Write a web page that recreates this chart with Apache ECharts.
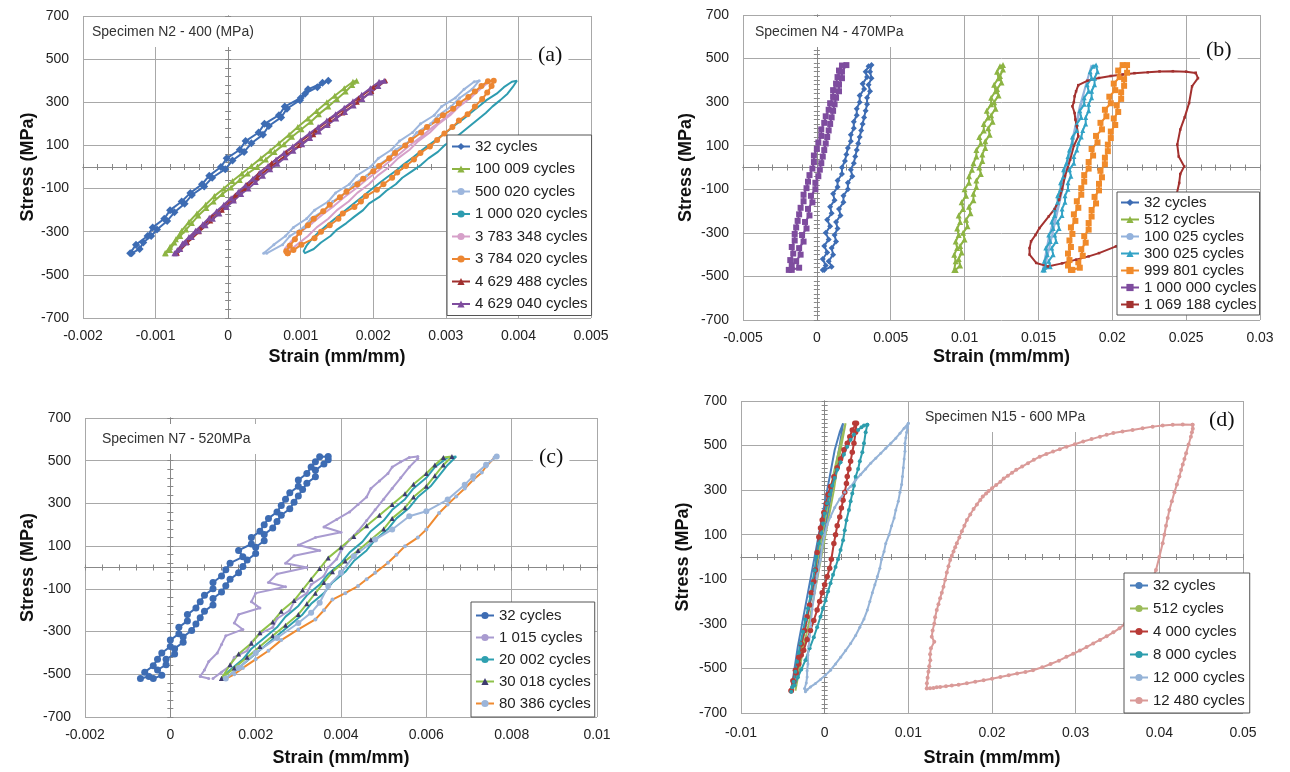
<!DOCTYPE html>
<html><head><meta charset="utf-8">
<script src="https://cdn.jsdelivr.net/npm/echarts@6/dist/echarts.min.js"></script>
<style>html,body{margin:0;padding:0;background:#fff}#c{width:1290px;height:772px}</style>
</head><body><div id="c"></div>
<script>
// ---------------- tick labels ----------------
const yTickLabels = [-700,-500,-300,-100,100,300,500,700];
const aXTicks = [-0.002,-0.001,0,0.001,0.002,0.003,0.004,0.005];
const bXTicks = [-0.005,0,0.005,0.01,0.015,0.02,0.025,0.03];
const cXTicks = [-0.002,0,0.002,0.004,0.006,0.008,0.01];
const dXTicks = [-0.01,0,0.01,0.02,0.03,0.04,0.05];

// ---------------- titles ----------------
const panelTitles = ['Specimen N2 - 400 (MPa)','Specimen N4 - 470MPa','Specimen N7 - 520MPa','Specimen N15 - 600 MPa'];
const panelTags = ['(a)','(b)','(c)','(d)'];

// ---------------- legend names ----------------
const aNames = ['32 cycles','100 009 cycles','500 020 cycles','1 000 020 cycles','3 783 348 cycles','3 784 020 cycles','4 629 488 cycles','4 629 040 cycles'];
const bNames = ['32 cycles','512 cycles','100 025 cycles','300 025 cycles','999 801 cycles','1 000 000 cycles','1 069 188 cycles'];
const cNames = ['32 cycles','1 015 cycles','20 002 cycles','30 018 cycles','80 386 cycles'];
const dNames = ['32 cycles','512 cycles','4 000 cycles','8 000 cycles','12 000 cycles','12 480 cycles'];

// ---------------- panel (a) data [strain, stress] ----------------
const a32 = [[-0.00133,-400],[-0.00122,-380],[-0.00117,-350],[-0.00106,-320],[-0.00098,-290],[-0.00084,-250],[-0.00074,-210],[-0.00060,-170],[-0.00050,-130],[-0.00033,-90],[-0.00022,-50],[-0.00004,-10],[0.00006,30],[0.00022,70],[0.00032,110],[0.00048,150],[0.00056,190],[0.00073,230],[0.00081,270],[0.00099,310],[0.00106,340],[0.00123,370],[0.00138,400],
 [0.00130,390],[0.00110,360],[0.00100,320],[0.00078,280],[0.00070,240],[0.00050,200],[0.00042,160],[0.00024,120],[0.00016,80],[-0.00002,40],[-0.00010,0],[-0.00026,-40],[-0.00036,-80],[-0.00052,-120],[-0.00064,-160],[-0.00080,-200],[-0.00088,-240],[-0.00104,-280],[-0.00111,-320],[-0.00127,-360],[-0.00135,-400]];
const a100009 = [[-0.00086,-400],[-0.00080,-385],[-0.00074,-350],[-0.00066,-320],[-0.00058,-290],[-0.00050,-260],[-0.00041,-225],[-0.00030,-190],[-0.00020,-160],[-0.00008,-125],[0.00004,-95],[0.00016,-60],[0.00027,-30],[0.00040,0],[0.00052,35],[0.00064,70],[0.00077,105],[0.00088,140],[0.00101,175],[0.00114,210],[0.00125,245],[0.00138,280],[0.00150,315],[0.00162,350],[0.00171,380],[0.00177,400],
 [0.00172,395],[0.00160,365],[0.00147,330],[0.00136,300],[0.00122,260],[0.00110,225],[0.00096,185],[0.00084,150],[0.00070,110],[0.00058,75],[0.00045,40],[0.00032,5],[0.00019,-30],[0.00006,-65],[-0.00006,-100],[-0.00019,-135],[-0.00031,-175],[-0.00043,-215],[-0.00054,-255],[-0.00064,-295],[-0.00072,-335],[-0.00080,-370],[-0.00087,-400]];
const a500020 = [[0.00053,-400],[0.00075,-360],[0.00085,-320],[0.00104,-280],[0.00114,-240],[0.00133,-200],[0.00144,-160],[0.00162,-120],[0.00173,-80],[0.00191,-40],[0.00203,0],[0.00221,40],[0.00231,80],[0.00250,120],[0.00260,160],[0.00279,200],[0.00290,240],[0.00307,280],[0.00319,320],[0.00336,360],[0.00346,400],
 [0.00339,395],[0.00325,360],[0.00313,320],[0.00294,280],[0.00284,240],[0.00265,200],[0.00254,160],[0.00236,120],[0.00225,80],[0.00207,40],[0.00196,0],[0.00177,-40],[0.00167,-80],[0.00148,-120],[0.00138,-160],[0.00119,-200],[0.00108,-240],[0.00090,-280],[0.00079,-320],[0.00063,-360],[0.00049,-400]];
const a1000020 = [[0.00105,-400],[0.00118,-380],[0.00128,-350],[0.00141,-320],[0.00150,-290],[0.00163,-260],[0.00174,-230],[0.00186,-200],[0.00194,-170],[0.00208,-140],[0.00218,-110],[0.00231,-80],[0.00240,-50],[0.00253,-20],[0.00266,10],[0.00276,40],[0.00289,70],[0.00298,100],[0.00311,130],[0.00322,160],[0.00333,190],[0.00344,220],[0.00355,250],[0.00364,280],[0.00375,310],[0.00385,340],[0.00392,370],[0.00398,400],
 [0.00391,395],[0.00380,370],[0.00370,340],[0.00356,310],[0.00347,285],[0.00334,250],[0.00325,225],[0.00311,190],[0.00302,165],[0.00288,130],[0.00278,105],[0.00264,70],[0.00255,45],[0.00241,10],[0.00232,-15],[0.00218,-50],[0.00208,-75],[0.00195,-110],[0.00184,-140],[0.00171,-175],[0.00160,-205],[0.00147,-240],[0.00136,-270],[0.00124,-305],[0.00115,-335],[0.00108,-365],[0.00104,-390],[0.00106,-400]];
const a3783348 = [[0.00080,-400],[0.00095,-360],[0.00110,-320],[0.00122,-280],[0.00138,-240],[0.00150,-200],[0.00166,-160],[0.00178,-120],[0.00194,-80],[0.00206,-40],[0.00222,0],[0.00234,40],[0.00250,80],[0.00262,120],[0.00278,160],[0.00290,200],[0.00306,240],[0.00318,280],[0.00334,320],[0.00346,360],[0.00362,400],
 [0.00354,380],[0.00340,340],[0.00326,300],[0.00310,260],[0.00296,220],[0.00280,180],[0.00266,140],[0.00250,100],[0.00236,60],[0.00220,20],[0.00206,-20],[0.00190,-60],[0.00176,-100],[0.00160,-140],[0.00146,-180],[0.00130,-220],[0.00116,-260],[0.00100,-300],[0.00088,-340],[0.00078,-380],[0.00080,-400]];
const a3784020 = [[0.00082,-400],[0.00090,-385],[0.00101,-360],[0.00119,-330],[0.00128,-300],[0.00140,-270],[0.00152,-240],[0.00158,-215],[0.00174,-185],[0.00183,-160],[0.00190,-135],[0.00205,-105],[0.00214,-80],[0.00226,-50],[0.00233,-25],[0.00245,5],[0.00256,35],[0.00265,65],[0.00278,95],[0.00288,125],[0.00298,155],[0.00309,185],[0.00318,215],[0.00330,245],[0.00340,280],[0.00350,315],[0.00357,345],[0.00363,375],[0.00366,400],
 [0.00358,398],[0.00349,375],[0.00340,350],[0.00331,325],[0.00318,295],[0.00310,270],[0.00296,240],[0.00288,215],[0.00274,185],[0.00266,160],[0.00252,125],[0.00244,100],[0.00230,65],[0.00222,40],[0.00208,5],[0.00200,-20],[0.00186,-55],[0.00178,-80],[0.00163,-115],[0.00154,-140],[0.00140,-175],[0.00131,-205],[0.00118,-240],[0.00110,-270],[0.00098,-305],[0.00092,-335],[0.00085,-365],[0.00080,-390],[0.00082,-400]];
const a4629488 = [[-0.00070,-400],[-0.00056,-350],[-0.00040,-300],[-0.00024,-250],[-0.00008,-200],[0.00008,-150],[0.00024,-100],[0.00040,-50],[0.00058,0],[0.00078,50],[0.00098,100],[0.00118,150],[0.00138,200],[0.00158,250],[0.00178,300],[0.00198,350],[0.00217,400],
 [0.00200,370],[0.00180,320],[0.00160,270],[0.00140,220],[0.00120,170],[0.00100,120],[0.00080,70],[0.00060,20],[0.00042,-30],[0.00026,-80],[0.00010,-130],[-0.00006,-180],[-0.00022,-230],[-0.00038,-280],[-0.00054,-330],[-0.00066,-375],[-0.00071,-400]];
const a4629040 = [[-0.00072,-400],[-0.00066,-380],[-0.00058,-350],[-0.00050,-325],[-0.00040,-295],[-0.00031,-270],[-0.00021,-240],[-0.00012,-215],[-0.00002,-185],[0.00008,-155],[0.00018,-125],[0.00028,-100],[0.00038,-70],[0.00048,-40],[0.00058,-10],[0.00068,15],[0.00079,45],[0.00090,75],[0.00102,105],[0.00113,135],[0.00125,165],[0.00137,195],[0.00149,225],[0.00161,255],[0.00173,285],[0.00185,315],[0.00196,345],[0.00207,375],[0.00215,400],
 [0.00208,395],[0.00196,365],[0.00184,335],[0.00172,305],[0.00160,275],[0.00148,245],[0.00136,215],[0.00124,185],[0.00112,155],[0.00100,125],[0.00089,95],[0.00077,65],[0.00066,35],[0.00055,5],[0.00044,-25],[0.00034,-55],[0.00024,-85],[0.00014,-115],[0.00004,-145],[-0.00006,-175],[-0.00016,-205],[-0.00026,-235],[-0.00035,-265],[-0.00045,-295],[-0.00054,-325],[-0.00063,-355],[-0.00070,-385],[-0.00074,-400]];

// ---------------- panel (b) data ----------------
const b32 = [[0.0005,-470],[0.0010,-455],[0.0008,-430],[0.0011,-400],[0.0010,-370],[0.0013,-340],[0.0012,-310],[0.0014,-280],[0.0013,-250],[0.0016,-220],[0.0015,-190],[0.0018,-160],[0.0018,-130],[0.0021,-100],[0.0021,-70],[0.0024,-40],[0.0023,-10],[0.0025,20],[0.0026,50],[0.0027,80],[0.0028,110],[0.0029,140],[0.0030,170],[0.0031,200],[0.0032,230],[0.0033,260],[0.0034,290],[0.0034,320],[0.0036,350],[0.0035,380],[0.0037,410],[0.0036,440],[0.0037,470],
 [0.0035,465],[0.0033,440],[0.0034,415],[0.0031,385],[0.0032,360],[0.0029,330],[0.0029,300],[0.0027,270],[0.0027,240],[0.0025,210],[0.0025,180],[0.0023,150],[0.0023,120],[0.0021,90],[0.0020,60],[0.0019,30],[0.0017,0],[0.0017,-30],[0.0014,-60],[0.0014,-90],[0.0011,-120],[0.0012,-150],[0.0009,-180],[0.0010,-210],[0.0007,-240],[0.0009,-270],[0.0006,-300],[0.0008,-330],[0.0005,-360],[0.0007,-390],[0.0004,-420],[0.0006,-450],[0.0004,-470]];
const b512 = [[0.0094,-470],[0.0097,-450],[0.0096,-420],[0.0098,-390],[0.0097,-360],[0.0100,-330],[0.0099,-300],[0.0102,-270],[0.0101,-240],[0.0104,-210],[0.0103,-180],[0.0106,-150],[0.0106,-120],[0.0108,-90],[0.0108,-60],[0.0111,-30],[0.0110,0],[0.0112,30],[0.0112,60],[0.0114,90],[0.0114,120],[0.0117,150],[0.0116,180],[0.0119,210],[0.0118,240],[0.0121,270],[0.0120,300],[0.0123,330],[0.0122,360],[0.0125,390],[0.0124,420],[0.0126,450],[0.0126,470],
 [0.0124,465],[0.0122,440],[0.0123,410],[0.0120,380],[0.0121,350],[0.0118,320],[0.0118,290],[0.0115,260],[0.0116,230],[0.0113,200],[0.0113,170],[0.0110,140],[0.0111,110],[0.0108,80],[0.0108,50],[0.0106,20],[0.0105,-10],[0.0103,-40],[0.0103,-70],[0.0100,-100],[0.0101,-130],[0.0098,-160],[0.0099,-190],[0.0096,-220],[0.0097,-250],[0.0095,-280],[0.0096,-310],[0.0094,-340],[0.0095,-370],[0.0093,-400],[0.0094,-430],[0.0093,-470]];
const b100025 = [[0.0154,-470],[0.0158,-350],[0.0162,-230],[0.0166,-110],[0.0169,0],[0.0173,110],[0.0177,230],[0.0181,350],[0.0186,470],[0.0183,400],[0.0178,280],[0.0174,160],[0.0170,40],[0.0166,-80],[0.0162,-200],[0.0157,-320],[0.0153,-470]];
const b300025 = [[0.0154,-470],[0.0158,-455],[0.0157,-430],[0.0160,-400],[0.0159,-370],[0.0162,-340],[0.0161,-310],[0.0164,-280],[0.0163,-250],[0.0166,-220],[0.0166,-190],[0.0168,-160],[0.0168,-130],[0.0170,-100],[0.0170,-70],[0.0172,-40],[0.0171,-10],[0.0174,20],[0.0174,50],[0.0176,80],[0.0177,110],[0.0179,140],[0.0180,170],[0.0182,200],[0.0182,230],[0.0184,260],[0.0184,290],[0.0186,320],[0.0186,350],[0.0188,380],[0.0188,410],[0.0190,440],[0.0189,470],
 [0.0187,465],[0.0185,440],[0.0186,410],[0.0183,380],[0.0184,350],[0.0181,320],[0.0181,290],[0.0178,260],[0.0179,230],[0.0176,200],[0.0176,170],[0.0173,140],[0.0173,110],[0.0171,80],[0.0170,50],[0.0169,20],[0.0167,-10],[0.0167,-40],[0.0165,-70],[0.0165,-100],[0.0163,-130],[0.0163,-160],[0.0161,-190],[0.0161,-220],[0.0159,-250],[0.0160,-280],[0.0157,-310],[0.0158,-340],[0.0155,-370],[0.0156,-400],[0.0154,-430],[0.0155,-450],[0.0153,-470]];
const b999801 = [[0.0173,-470],[0.0178,-460],[0.0177,-435],[0.0180,-405],[0.0179,-375],[0.0182,-345],[0.0181,-315],[0.0184,-285],[0.0184,-255],[0.0186,-225],[0.0186,-195],[0.0189,-165],[0.0188,-135],[0.0191,-105],[0.0191,-75],[0.0193,-45],[0.0192,-15],[0.0195,15],[0.0195,45],[0.0197,75],[0.0197,105],[0.0199,135],[0.0199,165],[0.0202,195],[0.0201,225],[0.0204,255],[0.0203,285],[0.0206,315],[0.0206,345],[0.0208,375],[0.0208,405],[0.0210,435],[0.0210,470],
 [0.0207,470],[0.0204,445],[0.0205,415],[0.0201,385],[0.0202,355],[0.0198,325],[0.0199,295],[0.0195,265],[0.0196,235],[0.0192,205],[0.0193,175],[0.0189,145],[0.0190,115],[0.0186,85],[0.0187,55],[0.0184,25],[0.0184,-5],[0.0181,-35],[0.0181,-65],[0.0179,-95],[0.0179,-125],[0.0176,-155],[0.0177,-185],[0.0174,-215],[0.0175,-245],[0.0172,-275],[0.0173,-305],[0.0171,-335],[0.0172,-365],[0.0170,-395],[0.0171,-425],[0.0170,-450],[0.0172,-470]];
const b1000000 = [[-0.0017,-470],[-0.0012,-460],[-0.0014,-430],[-0.0011,-400],[-0.0012,-370],[-0.0009,-340],[-0.0010,-310],[-0.0007,-280],[-0.0008,-250],[-0.0005,-220],[-0.0006,-190],[-0.0003,-160],[-0.0004,-130],[-0.0001,-100],[-0.0001,-70],[0.0001,-40],[0.0002,-10],[0.0003,20],[0.0004,50],[0.0005,80],[0.0006,110],[0.0007,140],[0.0008,170],[0.0009,200],[0.0010,230],[0.0011,260],[0.0012,290],[0.0013,320],[0.0015,350],[0.0015,380],[0.0017,410],[0.0017,440],[0.0020,470],
 [0.0017,468],[0.0015,445],[0.0014,415],[0.0013,385],[0.0011,355],[0.0011,325],[0.0009,295],[0.0008,265],[0.0006,235],[0.0005,205],[0.0003,175],[0.0003,145],[0.0001,115],[0.0000,85],[-0.0002,55],[-0.0002,25],[-0.0003,-5],[-0.0005,-35],[-0.0006,-65],[-0.0007,-95],[-0.0009,-125],[-0.0009,-155],[-0.0011,-185],[-0.0012,-215],[-0.0013,-245],[-0.0014,-275],[-0.0015,-305],[-0.0015,-335],[-0.0017,-365],[-0.0016,-395],[-0.0018,-425],[-0.0017,-450],[-0.0019,-470]];
const b1069188 = [[0.02565,434],[0.0250,440],[0.0241,442],[0.0232,441],[0.0224,437],[0.0215,433],[0.0207,427],[0.0199,420],[0.0191,411],[0.0183,398],[0.0177,378],[0.01755,350],[0.01745,327],[0.0174,300],[0.0173,281],[0.01745,250],[0.0175,220],[0.0176,190],[0.0177,143],[0.0174,100],[0.01715,36],[0.0168,-40],[0.0166,-100],[0.0164,-148],[0.0161,-190],[0.0157,-224],[0.01507,-278],[0.0148,-310],[0.0145,-339],[0.0144,-370],[0.0144,-400],[0.01485,-438],[0.01563,-454],[0.0166,-440],[0.01755,-423],[0.0184,-408],[0.0191,-393],[0.02025,-362],[0.0215,-320],[0.0228,-270],[0.0238,-200],[0.0243,-140],[0.02453,-71],[0.0246,-30],[0.02487,5],[0.0245,50],[0.0244,105],[0.0246,174],[0.0249,230],[0.0252,296],[0.0254,373],[0.0258,410],[0.02565,434]];

// ---------------- panel (c) data ----------------
const c32 = [[-0.0004,-520],[-0.0002,-505],[-0.0003,-480],[-0.0001,-455],[-0.0001,-430],[0.0001,-405],[0.0001,-380],[0.0003,-350],[0.0003,-325],[0.0005,-295],[0.0006,-265],[0.0007,-235],[0.0008,-205],[0.0010,-175],[0.0010,-145],[0.0012,-115],[0.0013,-85],[0.0014,-55],[0.0016,-25],[0.0017,5],[0.0018,35],[0.0020,65],[0.0020,95],[0.0022,125],[0.0022,155],[0.0024,185],[0.0025,215],[0.0026,245],[0.0028,275],[0.0029,305],[0.0030,335],[0.0031,365],[0.0032,395],[0.0034,425],[0.0034,455],[0.0036,485],[0.0037,505],[0.0037,520],
 [0.0035,518],[0.0034,495],[0.0033,470],[0.0032,440],[0.0030,410],[0.0030,380],[0.0028,350],[0.0027,320],[0.0026,290],[0.0025,260],[0.0023,230],[0.0022,200],[0.0021,170],[0.0019,140],[0.0019,110],[0.0016,80],[0.0017,50],[0.0014,20],[0.0013,-10],[0.0012,-40],[0.0010,-70],[0.0010,-100],[0.0008,-130],[0.0007,-160],[0.0006,-190],[0.0004,-220],[0.0004,-250],[0.0002,-280],[0.0002,-310],[0.0000,-340],[0.0000,-370],[-0.0002,-400],[-0.0003,-430],[-0.0004,-460],[-0.0006,-490],[-0.0005,-510],[-0.0007,-520]];
const c1015 = [[0.0010,-520],[0.0012,-490],[0.0014,-460],[0.0015,-420],[0.0018,-390],[0.0019,-350],[0.0021,-310],[0.0024,-280],[0.0025,-240],[0.0028,-200],[0.0029,-160],[0.0032,-120],[0.0033,-80],[0.0036,-40],[0.0037,0],[0.0039,40],[0.0040,80],[0.0042,130],[0.0044,170],[0.0046,220],[0.0048,270],[0.0050,320],[0.0052,370],[0.0054,420],[0.0056,470],[0.0058,510],[0.0058,520],
 [0.0056,515],[0.0054,495],[0.0052,470],[0.0051,440],[0.0049,405],[0.0047,370],[0.0046,330],[0.0044,295],[0.0042,260],[0.0039,225],[0.0036,190],[0.0040,165],[0.0034,140],[0.0030,105],[0.0035,80],[0.0029,55],[0.0027,20],[0.0032,0],[0.0025,-30],[0.0023,-70],[0.0027,-90],[0.0020,-120],[0.0019,-160],[0.0021,-190],[0.0016,-220],[0.0015,-260],[0.0017,-290],[0.0013,-320],[0.0012,-360],[0.0011,-400],[0.0009,-440],[0.0008,-480],[0.0007,-510],[0.0009,-520]];
const c20002 = [[0.0013,-520],[0.0016,-470],[0.0019,-420],[0.0022,-370],[0.0025,-320],[0.0028,-270],[0.0031,-220],[0.0033,-170],[0.0036,-120],[0.0038,-70],[0.0041,-20],[0.0043,30],[0.0046,80],[0.0048,130],[0.0051,180],[0.0053,230],[0.0056,280],[0.0058,330],[0.0061,380],[0.0063,430],[0.0065,480],[0.0067,520],
 [0.0065,515],[0.0062,470],[0.0060,420],[0.0057,370],[0.0055,320],[0.0052,270],[0.0050,220],[0.0047,170],[0.0045,120],[0.0042,70],[0.0040,20],[0.0037,-30],[0.0035,-80],[0.0032,-130],[0.0030,-180],[0.0027,-230],[0.0025,-280],[0.0022,-330],[0.0019,-380],[0.0017,-430],[0.0014,-480],[0.0012,-520]];
const c30018 = [[0.0012,-520],[0.0015,-470],[0.0018,-420],[0.0021,-370],[0.0024,-320],[0.0027,-270],[0.0030,-220],[0.0032,-170],[0.0034,-120],[0.0036,-70],[0.0038,-20],[0.0041,30],[0.0044,80],[0.0047,130],[0.0050,180],[0.0052,230],[0.0055,280],[0.0057,330],[0.0060,380],[0.0062,430],[0.0064,480],[0.0066,520],
 [0.0064,515],[0.0062,480],[0.0060,440],[0.0057,390],[0.0055,345],[0.0052,295],[0.0049,245],[0.0046,195],[0.0043,145],[0.0040,95],[0.0037,45],[0.0035,-5],[0.0033,-55],[0.0031,-105],[0.0029,-155],[0.0026,-205],[0.0024,-255],[0.0021,-305],[0.0019,-355],[0.0016,-405],[0.0014,-455],[0.0012,-520]];
const c80386 = [[0.0013,-520],[0.0015,-500],[0.0017,-470],[0.0020,-430],[0.0023,-390],[0.0026,-340],[0.0030,-290],[0.0034,-243],[0.0036,-200],[0.0038,-150],[0.0041,-120],[0.0044,-87],[0.0046,-55],[0.0048,-25],[0.0051,22],[0.0053,60],[0.0055,100],[0.0058,140],[0.0060,178],[0.0063,255],[0.0065,295],[0.0067,333],[0.0069,370],[0.0071,411],[0.0073,445],[0.0074,473],[0.0076,515]];
const c80386Unload = [[0.00765,520],[0.0074,481],[0.0071,427],[0.0069,388],[0.0065,318],[0.0060,263],[0.0056,240],[0.0052,178],[0.0048,131],[0.0043,53],[0.0040,-25],[0.0037,-87],[0.0035,-165],[0.0033,-212],[0.0030,-260],[0.0025,-330],[0.0020,-400],[0.0016,-470],[0.0013,-520]];

// ---------------- panel (d) data ----------------
const d32 = [[-0.0040,-600],[-0.0034,-500],[-0.0028,-400],[-0.0022,-300],[-0.0017,-200],[-0.0011,-100],[-0.0006,0],[-0.0001,100],[0.0004,200],[0.0009,300],[0.0013,400],[0.0018,500],[0.0022,600],
 [0.0018,560],[0.0012,480],[0.0008,400],[0.0003,300],[-0.0002,200],[-0.0007,100],[-0.0012,0],[-0.0017,-100],[-0.0022,-200],[-0.0027,-300],[-0.0032,-400],[-0.0036,-500],[-0.0040,-600]];
const d512 = [[-0.0035,-600],[-0.0030,-500],[-0.0025,-400],[-0.0019,-300],[-0.0014,-200],[-0.0009,-100],[-0.0004,0],[0.0001,100],[0.0006,200],[0.0011,300],[0.0015,400],[0.0020,500],[0.0025,600],
 [0.0021,540],[0.0016,460],[0.0011,380],[0.0006,280],[0.0001,180],[-0.0004,80],[-0.0009,-20],[-0.0014,-120],[-0.0019,-220],[-0.0024,-320],[-0.0028,-420],[-0.0032,-520],[-0.0035,-600]];
const d4000 = [[-0.0040,-600],[-0.0037,-560],[-0.0034,-520],[-0.0031,-480],[-0.0028,-440],[-0.0025,-418],[-0.0021,-370],[-0.0017,-330],[-0.0013,-285],[-0.0009,-238],[-0.0006,-200],[-0.0003,-160],[0.0000,-125],[0.0003,-88],[0.0006,-50],[0.0008,-10],[0.0011,61],[0.0013,100],[0.0015,140],[0.0018,180],[0.0020,220],[0.0022,255],[0.0024,290],[0.0026,330],[0.0027,361],[0.0029,395],[0.0031,430],[0.0033,470],[0.0035,510],[0.0037,560],[0.0038,600],
 [0.0036,600],[0.0033,570],[0.0030,540],[0.0027,510],[0.0023,481],[0.0019,440],[0.0015,400],[0.0011,360],[0.0007,316],[0.0004,280],[0.0002,240],[-0.0001,200],[-0.0003,166],[-0.0005,130],[-0.0007,90],[-0.0009,20],[-0.0011,-58],[-0.0013,-110],[-0.0016,-160],[-0.0018,-215],[-0.0021,-268],[-0.0024,-330],[-0.0028,-390],[-0.0031,-450],[-0.0035,-508],[-0.0038,-555],[-0.0040,-600]];
const d8000 = [[0.0051,593],[0.0049,560],[0.0047,510],[0.0045,470],[0.0042,430],[0.0040,395],[0.0037,360],[0.0035,320],[0.0033,285],[0.0031,250],[0.0029,211],[0.0026,165],[0.0024,120],[0.0022,75],[0.0019,31],[0.0016,-10],[0.0013,-45],[0.0010,-80],[0.0007,-118],[0.0004,-155],[0.0001,-195],[-0.0002,-230],[-0.0005,-268],[-0.0009,-315],[-0.0013,-360],[-0.0018,-410],[-0.0023,-463],[-0.0028,-505],[-0.0032,-540],[-0.0036,-575],[-0.0040,-605],
 [-0.0039,-585],[-0.0037,-560],[-0.0035,-515],[-0.0033,-470],[-0.0031,-430],[-0.0029,-388],[-0.0026,-335],[-0.0023,-280],[-0.0020,-230],[-0.0017,-178],[-0.0015,-120],[-0.0012,-60],[-0.0010,0],[-0.0007,61],[-0.0004,105],[-0.0002,150],[0.0000,195],[0.0003,241],[0.0006,280],[0.0009,320],[0.0012,355],[0.0015,391],[0.0019,425],[0.0023,460],[0.0027,495],[0.0031,526],[0.0035,550],[0.0040,570],[0.0044,582],[0.0047,590],[0.0051,593]];
const d12000 = [[0.0100,600],[0.0099,580],[0.0098,560],[0.0097,535],[0.0096,510],[0.0096,475],[0.0095,440],[0.0094,400],[0.0093,361],[0.0092,325],[0.0090,290],[0.0088,250],[0.0085,211],[0.0083,175],[0.0080,140],[0.0077,100],[0.0073,61],[0.0071,25],[0.0068,-10],[0.0066,-50],[0.0063,-88],[0.0060,-125],[0.0057,-160],[0.0054,-200],[0.0051,-238],[0.0047,-278],[0.0042,-315],[0.0037,-352],[0.0031,-388],[0.0025,-420],[0.0019,-450],[0.0013,-480],[0.0007,-508],[0.0001,-530],[-0.0005,-550],[-0.0011,-568],[-0.0017,-583],[-0.0021,-596],[-0.0023,-605],
 [-0.0024,-590],[-0.0022,-565],[-0.0021,-538],[-0.0021,-510],[-0.0020,-480],[-0.0020,-440],[-0.0019,-400],[-0.0018,-355],[-0.0017,-313],[-0.0015,-235],[-0.0012,-160],[-0.0009,-85],[-0.0005,-13],[-0.0003,45],[0.0000,100],[0.0003,145],[0.0007,181],[0.0012,222],[0.0018,260],[0.0024,290],[0.0031,316],[0.0037,345],[0.0043,370],[0.0049,395],[0.0055,421],[0.0061,443],[0.0067,465],[0.0073,488],[0.0079,510],[0.0085,533],[0.0090,555],[0.0095,578],[0.0100,600]];
const d12480 = [[0.04397,593],[0.0428,594],[0.0416,593],[0.0404,590],[0.0392,585],[0.0380,578],[0.0368,570],[0.0356,563],[0.0345,556],[0.0337,548],[0.0329,540],[0.0319,529],[0.0309,518],[0.0299,506],[0.0289,495],[0.0281,484],[0.0273,473],[0.0265,462],[0.0257,450],[0.0250,436],[0.0243,421],[0.0236,406],[0.0229,391],[0.0224,378],[0.0219,365],[0.0214,352],[0.0210,338],[0.0205,323],[0.0200,308],[0.0196,296],[0.0193,285],[0.0189,271],[0.0186,256],[0.0182,236],[0.0178,215],[0.0174,191],[0.0170,166],[0.0167,140],[0.0164,115],[0.0161,88],[0.0158,62],[0.0156,44],[0.0154,25],[0.0152,6],[0.0150,-13],[0.0148,-42],[0.0146,-70],[0.0144,-102],[0.0142,-133],[0.0140,-160],[0.0138,-185],[0.0136,-212],[0.0134,-238],[0.0132,-270],[0.0131,-300],[0.0129,-330],[0.0128,-358],[0.0131,-380],[0.0127,-410],[0.0126,-436],[0.01262,-463],[0.0125,-490],[0.0124,-515],[0.0123,-542],[0.01222,-567],[0.0122,-590],
 [0.0126,-589],[0.0130,-588],[0.0134,-585],[0.0138,-583],[0.0145,-580],[0.0152,-577],[0.0160,-573],[0.0170,-567],[0.0180,-560],[0.0190,-553],[0.0200,-546],[0.0210,-538],[0.0220,-531],[0.0230,-523],[0.0240,-516],[0.0249,-508],[0.0260,-495],[0.0270,-480],[0.0280,-465],[0.0289,-448],[0.0297,-434],[0.0305,-420],[0.0313,-404],[0.0321,-388],[0.0329,-372],[0.0337,-356],[0.0345,-338],[0.03524,-320],[0.0359,-300],[0.0365,-280],[0.0371,-256],[0.0376,-230],[0.0381,-190],[0.0386,-150],[0.0391,-104],[0.0396,-58],[0.0400,0],[0.0404,62],[0.0406,100],[0.0408,140],[0.0410,175],[0.0412,211],[0.0415,250],[0.0418,290],[0.0421,325],[0.0424,361],[0.0426,390],[0.0428,415],[0.0430,440],[0.0432,466],[0.0435,505],[0.04377,540],[0.0439,560],[0.0440,575],[0.04397,593]];

// ---------------- styles & layout (not data) ----------------
const FONT = "'Liberation Sans', Arial, Helvetica, sans-serif";
const panels = [
  { key:'a', names:aNames, data:[a32,a100009,a500020,a1000020,a3783348,a3784020,a4629488,a4629040], xTicks:aXTicks,
    styles:[{c:'#3D6CB3',s:'diamond',z:8},{c:'#8DB443',s:'triangle',z:6},{c:'#9DB6DD',s:'circle',z:3},{c:'#2E9CB0',s:'none'},{c:'#D6A0C9',s:'none'},{c:'#EC8632',s:'circle',z:6},{c:'#A0302F',s:'triangle',z:5},{c:'#7E4C9E',s:'triangle',z:6}],
    grid:{left:83,top:16,width:508,height:302}, xMinor:0.0002, yMinor:40, lblMargin:11, xGap:30, yGap:46,
    legend:{left:447,top:135,gap:7.5,pad:[4,4,4,4]}, title:{left:84,top:17}, tag:{left:532,top:42} },
  { key:'b', names:bNames, data:[b32,b512,b100025,b300025,b999801,b1000000,b1069188], xTicks:bXTicks,
    styles:[{c:'#3D6CB3',s:'diamond',z:6},{c:'#8DB443',s:'triangle',z:6},{c:'#93B2DC',s:'none'},{c:'#33A3C6',s:'triangle',z:5},{c:'#F08A2A',s:'rect',z:6},{c:'#7E4C9E',s:'rect',z:6},{c:'#A3312F',s:'rect',z:2.5}],
    grid:{left:743,top:15,width:517,height:305}, xMinor:0.001, yMinor:20, lblMargin:11, xGap:28, yGap:48,
    legend:{left:1117,top:192,gap:2,pad:[3,3,3,3]}, title:{left:747,top:17}, tag:{left:1200,top:37} },
  { key:'c', names:cNames, data:[c32,c1015,c20002,c30018,c80386], xTicks:cXTicks,
    styles:[{c:'#3D6CB3',s:'circle',z:7},{c:'#A99BD0',s:'circle',z:3},{c:'#2FA0B0',s:'none'},{c:'#8FC24A',m:'#3D3A6E',s:'triangle',z:5},{c:'#EF8A30',m:'#9BB5DA',s:'circle',z:4}],
    grid:{left:85,top:418,width:512,height:299}, xMinor:0.0004, yMinor:40, lblMargin:11, xGap:32, yGap:48,
    legend:{left:471,top:602,gap:7,pad:[6,4,6,4]}, title:{left:94,top:424}, tag:{left:533,top:444} },
  { key:'d', names:dNames, data:[d32,d512,d4000,d8000,d12000,d12480], xTicks:dXTicks,
    styles:[{c:'#4A7EBB',s:'none'},{c:'#9BBB59',s:'none'},{c:'#B83A36',s:'circle',z:5.5},{c:'#2C9DAD',s:'circle',z:4},{c:'#95B3D7',s:'circle',z:3},{c:'#DA9A98',s:'circle',z:4}],
    grid:{left:741,top:401,width:502,height:312}, xMinor:0.002, yMinor:20, lblMargin:13, xGap:36, yGap:49,
    legend:{left:1124,top:573,gap:8,pad:[5,5,5,5]}, title:{left:917,top:402}, tag:{left:1203,top:407} }
];

const option = { animation:false, backgroundColor:'#fff', grid:[], xAxis:[], yAxis:[], series:[], legend:[], title:[] };
const gridColor = '#a8a8a8', zeroColor = '#888888';

panels.forEach((P, i) => {
  option.grid.push(Object.assign({containLabel:false}, P.grid));
  const xMin = P.xTicks[0], xMax = P.xTicks[P.xTicks.length-1];
  const xInt = +(P.xTicks[1]-P.xTicks[0]).toPrecision(6);
  const yMin = yTickLabels[0], yMax = yTickLabels[yTickLabels.length-1];
  const base = 3*i;
  option.xAxis.push({ type:'value', gridIndex:i, position:'bottom', min:xMin, max:xMax, interval:xInt,
    axisLine:{show:false,onZero:false}, axisTick:{show:false},
    axisLabel:{fontSize:14, fontFamily:FONT, color:'#222', margin:P.lblMargin},
    splitLine:{show:true, lineStyle:{color:gridColor, width:1}},
    name:'Strain (mm/mm)', nameLocation:'middle', nameGap:P.xGap,
    nameTextStyle:{fontSize:18, fontWeight:'bold', fontFamily:FONT, color:'#111'} });
  [false,true].forEach(inside => option.xAxis.push({ type:'value', gridIndex:i, position:'bottom', min:xMin, max:xMax, interval:P.xMinor,
    axisLine:{show:true,onZero:true,onZeroAxisIndex:base,lineStyle:{color:zeroColor,width:1}},
    axisTick:{show:true,inside:inside,length:3,lineStyle:{color:zeroColor,width:1}},
    axisLabel:{show:false}, splitLine:{show:false} }));
  option.yAxis.push({ type:'value', gridIndex:i, position:'left', min:yMin, max:yMax, interval:200,
    axisLine:{show:false,onZero:false}, axisTick:{show:false, customValues:yTickLabels},
    axisLabel:{fontSize:14, fontFamily:FONT, color:'#222', margin:14, customValues:yTickLabels},
    splitLine:{show:true, lineStyle:{color:gridColor, width:1}},
    name:'Stress (MPa)', nameLocation:'middle', nameGap:P.yGap,
    nameTextStyle:{fontSize:18, fontWeight:'bold', fontFamily:FONT, color:'#111'} });
  [false,true].forEach(inside => option.yAxis.push({ type:'value', gridIndex:i, position:'left', min:yMin, max:yMax, interval:P.yMinor,
    axisLine:{show:true,onZero:true,onZeroAxisIndex:base,lineStyle:{color:zeroColor,width:1}},
    axisTick:{show:true,inside:inside,length:3,lineStyle:{color:zeroColor,width:1}},
    axisLabel:{show:false}, splitLine:{show:false} }));

  const legendNames = [];
  P.names.forEach((nm, k) => {
    const st = P.styles[k];
    const full = P.key + ':' + nm;
    legendNames.push(full);
    option.series.push({ type:'line', name:full, xAxisIndex:base, yAxisIndex:base, data:P.data[k],
      symbol:st.s, symbolSize:st.z || 0, showSymbol:st.s !== 'none',
      lineStyle:{color:st.c, width:2}, itemStyle:{color:st.m || st.c},
      emphasis:{disabled:true}, silent:true });
  });
  if (P.key === 'c') {
    option.series.push({ type:'line', name:'c:80 386 cycles unloading', xAxisIndex:base, yAxisIndex:base, data:c80386Unload,
      symbol:'circle', symbolSize:6, lineStyle:{color:'#9BB5DA', width:2}, itemStyle:{color:'#9BB5DA'},
      emphasis:{disabled:true}, silent:true });
  }
  option.legend.push({ data:legendNames, orient:'vertical', left:P.legend.left, top:P.legend.top,
    itemWidth:18, itemHeight:9, itemGap:P.legend.gap, padding:P.legend.pad,
    backgroundColor:'#fff', borderColor:'#555', borderWidth:1, selectedMode:false, z:10,
    formatter: n => n.slice(2),
    textStyle:{fontSize: 15, fontFamily:FONT, color:'#222'} });
  option.title.push({ text:panelTitles[i], left:P.title.left, top:P.title.top, padding:[8,8,8,8], backgroundColor:'#fff',
    textStyle:{fontSize:14, fontWeight:'normal', fontFamily:FONT, color:'#333'} });
  option.title.push({ text:panelTags[i], left:P.tag.left, top:P.tag.top, padding:[2,6,2,6], backgroundColor:'#fff',
    textStyle:{fontSize:22, fontWeight:'normal', fontFamily:"'Liberation Serif', 'Times New Roman', serif", color:'#111'} });
});

const chart = echarts.init(document.getElementById('c'), null, {renderer:'canvas'});
chart.setOption(option);
</script></body></html>
